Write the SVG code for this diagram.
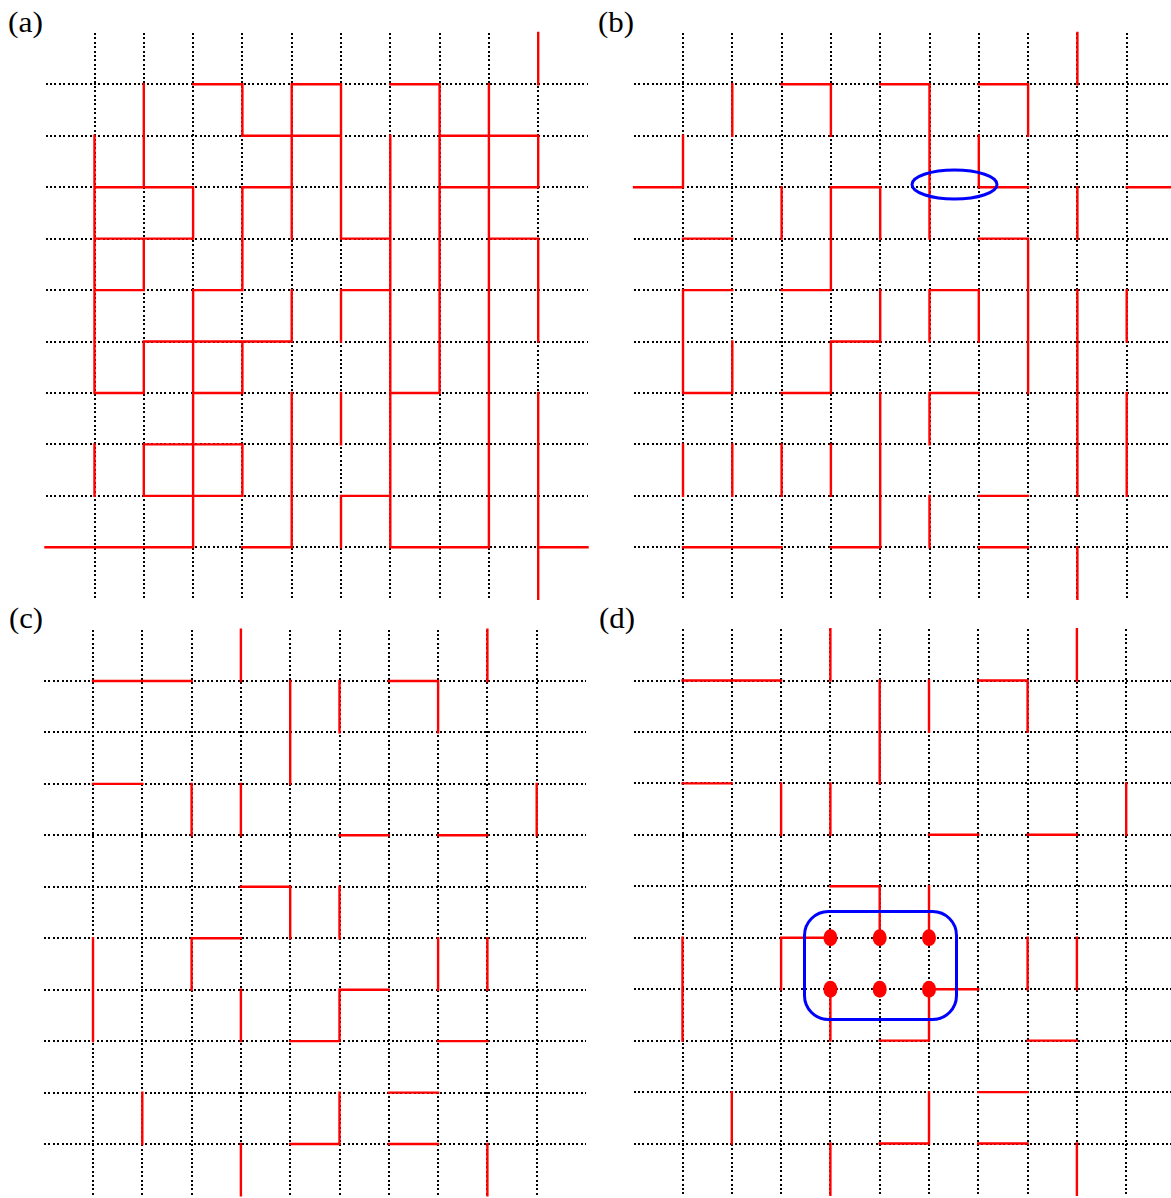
<svg xmlns="http://www.w3.org/2000/svg" width="1171" height="1198" viewBox="0 0 1171 1198">
<style>
.dot{fill:none;stroke:#000;stroke-width:2;stroke-dasharray:2 2.4;shape-rendering:crispEdges}
.red{fill:none;stroke:#ff0000;stroke-width:2.4;stroke-linecap:square}
.blue{fill:none;stroke:#0000ff;stroke-width:3}
.pt{fill:#ff0000}
.lbl{font-family:"Liberation Serif","Times New Roman",serif;font-size:30px;fill:#000}
</style>
<defs>
<path id="grid" class="dot" d="M0 -51.4V514.4M49.3 -51.4V514.4M98.6 -51.4V514.4M147.9 -51.4V514.4M197.2 -51.4V514.4M246.5 -51.4V514.4M295.8 -51.4V514.4M345.1 -51.4V514.4M394.4 -51.4V514.4M443.7 -51.4V514.4M-49 0H493M-49 51.4H493M-49 102.9H493M-49 154.3H493M-49 205.8H493M-49 257.2H493M-49 308.7H493M-49 360.1H493M-49 411.6H493M-49 463H493"/>
<path id="redCD" class="red" d="M147.9 -51.4V0M394.4 -51.4V0M0 0H98.6M295.8 0H345.1M197.2 0V102.9M246.5 0V51.4M345.1 0V51.4M0 102.9H49.3M98.6 102.9V154.3M147.9 102.9V154.3M443.7 102.9V154.3M246.5 154.3H295.8M345.1 154.3H394.4M147.9 205.8H197.2M197.2 205.8V257.2M246.5 205.8V257.2M98.6 257.2H147.9M0 257.2V360.1M98.6 257.2V308.7M345.1 257.2V308.7M394.4 257.2V308.7M246.5 308.7H295.8M147.9 308.7V360.1M246.5 308.7V360.1M197.2 360.1H246.5M345.1 360.1H394.4M295.8 411.6H345.1M49.3 411.6V463M246.5 411.6V463M197.2 463H246.5M295.8 463H345.1M147.9 463V514.4M394.4 463V514.4"/>
</defs>

<text class="lbl" x="8" y="32" textLength="35" lengthAdjust="spacingAndGlyphs">(a)</text>
<text class="lbl" x="598" y="32" textLength="36" lengthAdjust="spacingAndGlyphs">(b)</text>
<text class="lbl" x="9" y="628" textLength="34" lengthAdjust="spacingAndGlyphs">(c)</text>
<text class="lbl" x="599" y="628" textLength="36" lengthAdjust="spacingAndGlyphs">(d)</text>

<g id="panel-a" transform="translate(94.5,84.3)">
<use href="#grid"/>
<path class="red" d="M443.7 -51.4V0M98.6 0H147.9M197.2 0H246.5M295.8 0H345.1M49.3 0V102.9M49.3 154.3V205.8M49.3 257.2V308.7M49.3 360.1V411.6M147.9 0V51.4M147.9 51.4H246.5M197.2 0V154.3M197.2 205.8V257.2M197.2 308.7V463M246.5 0V154.3M246.5 154.3H295.8M246.5 205.8V257.2M246.5 308.7V360.1M246.5 411.6V463M0 51.4V308.7M0 360.1V411.6M0 102.9H98.6M98.6 102.9V154.3M0 154.3H98.6M0 205.8H49.3M147.9 102.9H197.2M147.9 102.9V205.8M98.6 205.8H147.9M295.8 51.4V463M246.5 205.8H295.8M345.1 0V308.7M345.1 51.4H443.7M394.4 0V463M443.7 51.4V102.9M345.1 102.9H443.7M394.4 154.3H443.7M443.7 154.3V257.2M443.7 308.7V514.4M98.6 205.8V463M49.3 257.2H197.2M0 308.7H49.3M147.9 257.2V308.7M98.6 308.7H147.9M295.8 308.7H345.1M49.3 360.1H147.9M147.9 360.1V411.6M49.3 411.6H147.9M246.5 411.6H295.8M-49 463H98.6M147.9 463H197.2M295.8 463H394.4M443.7 463H493"/>
</g>

<g id="panel-b" transform="translate(683,84.3)">
<use href="#grid"/>
<path class="red" d="M394.4 -51.4V0M98.6 0H147.9M197.2 0H246.5M295.8 0H345.1M49.3 0V51.4M147.9 0V51.4M246.5 0V154.3M345.1 0V51.4M0 51.4V102.9M-49 102.9H0M295.8 51.4V102.9M295.8 102.9H345.1M443.7 102.9H493M98.6 102.9V154.3M147.9 102.9H197.2M147.9 102.9V205.8M197.2 102.9V154.3M394.4 102.9V154.3M0 154.3H49.3M295.8 154.3H345.1M345.1 154.3V308.7M0 205.8H49.3M98.6 205.8H147.9M246.5 205.8H295.8M0 205.8V308.7M197.2 205.8V257.2M246.5 205.8V257.2M295.8 205.8V257.2M394.4 205.8V411.6M443.7 205.8V257.2M443.7 308.7V411.6M394.4 463V514.4M49.3 257.2V308.7M0 308.7H49.3M147.9 257.2H197.2M147.9 257.2V308.7M98.6 308.7H147.9M197.2 308.7V463M246.5 308.7H295.8M246.5 308.7V360.1M0 360.1V411.6M49.3 360.1V411.6M98.6 360.1V411.6M147.9 360.1V411.6M295.8 411.6H345.1M246.5 411.6V463M0 463H98.6M147.9 463H197.2M295.8 463H345.1"/>
<ellipse class="blue" cx="271.5" cy="100.2" rx="42.5" ry="14.5"/>
</g>

<g id="panel-c" transform="translate(93,681)">
<use href="#grid"/>
<use href="#redCD"/>
</g>

<g id="panel-d" transform="translate(682.5,680.5)">
<use href="#grid"/>
<use href="#redCD"/>
<rect class="blue" x="122" y="231" width="152" height="108" rx="24" ry="24"/>
<ellipse class="pt" cx="147.9" cy="257.2" rx="7" ry="8.5"/>
<ellipse class="pt" cx="197.2" cy="257.2" rx="7" ry="8.5"/>
<ellipse class="pt" cx="246.5" cy="257.2" rx="7" ry="8.5"/>
<ellipse class="pt" cx="147.9" cy="308.7" rx="7" ry="8.5"/>
<ellipse class="pt" cx="197.2" cy="308.7" rx="7" ry="8.5"/>
<ellipse class="pt" cx="246.5" cy="308.7" rx="7" ry="8.5"/>
</g>
</svg>
